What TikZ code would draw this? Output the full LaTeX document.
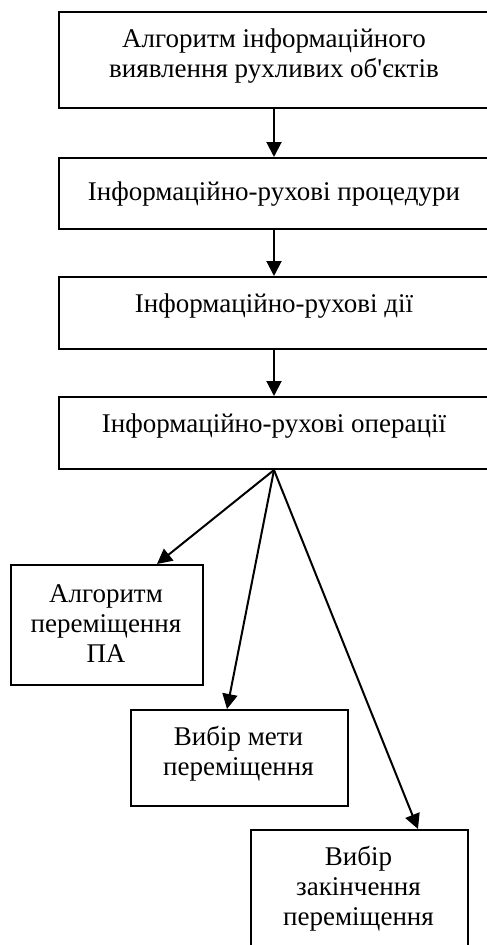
\documentclass[tikz,border=0pt]{standalone}
\usepackage{fontspec}
\setmainfont{Liberation Serif}[Ligatures=TeXOff]
\usetikzlibrary{arrows.meta}
\begin{document}
\begin{tikzpicture}[x=1pt,y=-1pt,
  box/.style={draw,line width=2pt,inner sep=0pt,anchor=north west},
  txt/.style={anchor=base,inner sep=0pt,font=\fontsize{27}{30}\selectfont},
  arr/.style={line width=2pt,-{Triangle[length=15pt,width=15pt]}}]
\useasboundingbox (0,0) rectangle (487,945);
\fill[white] (0,0) rectangle (487,945);
\clip (0,0) rectangle (487,945);
% axis coordinates for connectors
\coordinate (axis) at (274,0);
\coordinate (xa) at (157,0);
\coordinate (xb) at (227,0);
\coordinate (xc) at (418,0);
% boxes
\node[box,minimum width=470pt,minimum height=96pt] (b1) at (58,11) {};
\node[box,minimum width=470pt,minimum height=71pt] (b2) at (58,157) {};
\node[box,minimum width=470pt,minimum height=72pt] (b3) at (58,276) {};
\node[box,minimum width=470pt,minimum height=72pt] (b4) at (58,396) {};
\node[box,minimum width=192pt,minimum height=120pt] (ba) at (10,564) {};
\node[box,minimum width=217pt,minimum height=96pt] (bb) at (130,709) {};
\node[box,minimum width=217pt,minimum height=150pt] (bc) at (250,829) {};
% texts
\node[txt] (t1a) at (274,47) {Алгоритм інформаційного};
\node[txt] (t1b) at (274,77) {виявлення рухливих об'єктів};
\node[txt] (t2) at (274,200) {Інформаційно-рухові процедури};
\node[txt] (t3) at (274,312) {Інформаційно-рухові дії};
\node[txt] (t4) at (274,432) {Інформаційно-рухові операції};
\node[txt] (ta1) at (106,602) {Алгоритм};
\node[txt] (ta2) at (106,632) {переміщення};
\node[txt] (ta3) at (106,662) {ПА};
\node[txt] (tb1) at (238.5,745) {Вибір мети};
\node[txt] (tb2) at (238.5,775) {переміщення};
\node[txt] (tc1) at (358.5,865) {Вибір};
\node[txt] (tc2) at (358.5,895) {закінчення};
\node[txt] (tc3) at (358.5,925) {переміщення};
% connectors
\draw[arr] (b1.south -| axis) -- (b2.north -| axis);
\draw[arr] (b2.south -| axis) -- (b3.north -| axis);
\draw[arr] (b3.south -| axis) -- (b4.north -| axis);
\draw[arr] (b4.south -| axis) -- (ba.north -| xa);
\draw[arr] (b4.south -| axis) -- (bb.north -| xb);
\draw[arr] (b4.south -| axis) -- (bc.north -| xc);
\end{tikzpicture}
\end{document}
